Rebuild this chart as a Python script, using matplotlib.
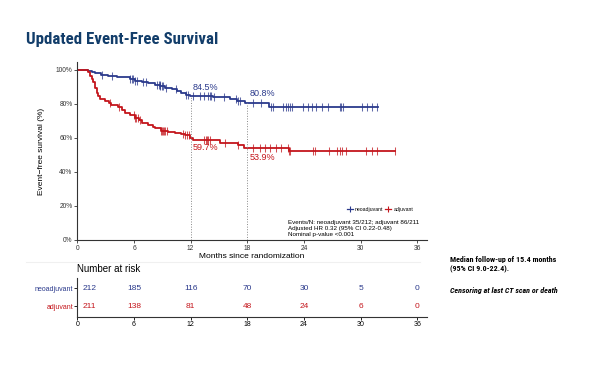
import matplotlib
matplotlib.use("Agg")
import matplotlib.pyplot as plt
from matplotlib.lines import Line2D
import numpy as np

plt.rcParams['font.family'] = ['Liberation Sans', 'DejaVu Sans']
COND = ['Roboto Condensed', 'Liberation Sans']

BLUE = '#2b3a8c'
RED = '#c4161c'
TITLE = '#123d6a'

# neoadjuvant arm (months, EFS %)
neo_t = [0, 1.1, 1.5, 1.9, 2.5, 3.2, 4.2, 5.0, 5.6, 6.1, 6.8, 7.5, 8.2, 8.8, 9.3,
         10.0, 10.6, 11.0, 11.5, 11.9, 14.4, 16.2, 16.9, 17.8, 20.3]
neo_s = [100, 99.4, 98.8, 98.0, 97.2, 96.6, 96.0, 95.6, 94.7, 93.7, 93.0, 92.2, 91.2, 90.4, 89.4,
         88.6, 87.8, 86.6, 85.4, 84.5, 83.9, 82.7, 81.6, 80.8, 78.4]
neo_end = 31.8
neo_cens = [2.6, 3.7, 5.6, 5.8, 5.9, 6.1, 6.3, 6.9, 7.3, 8.4, 8.6, 8.7, 8.8, 9.0, 9.1, 9.4,
            10.5, 11.5, 11.7, 12.3, 13.0, 13.4, 13.8, 14.0, 14.2, 14.5, 15.5, 16.8, 17.0,
            17.2, 18.6, 19.5, 20.5, 20.7, 21.8, 22.1, 22.3, 22.5, 22.7, 23.9, 24.4, 24.9,
            25.3, 25.9, 26.5, 27.8, 27.9, 28.1, 30.2, 30.7, 31.2, 31.7]

# adjuvant arm
adj_t = [0, 1.15, 1.3, 1.5, 1.7, 1.9, 2.05, 2.2, 2.4, 2.9, 3.3, 3.6, 4.3, 4.7, 5.0, 5.6,
         6.1, 6.5, 6.8, 7.5, 8.0, 8.2, 8.9, 9.6, 10.3, 11.0, 11.4, 11.95, 12.3, 15.1,
         17.0, 17.7, 22.4]
adj_s = [100, 98.6, 96.7, 94.8, 92.9, 89.6, 86.3, 84.4, 82.7, 81.8, 80.6, 79.4, 78.0, 76.2,
         74.5, 73.4, 71.6, 70.3, 69.0, 67.6, 66.7, 65.7, 64.3, 63.6, 63.1, 62.4, 61.8, 59.7,
         58.8, 57.2, 55.9, 53.9, 52.5]
adj_end = 33.6
adj_cens = [3.5, 4.4, 6.0, 6.1, 6.2, 6.4, 6.6, 8.9, 9.0, 9.1, 9.2, 9.3, 9.5, 11.2, 11.4,
            11.6, 11.8, 13.4, 13.6, 13.7, 13.8, 14.0, 15.6, 17.0, 18.6, 19.3, 19.9, 20.4,
            21.0, 21.6, 22.3, 22.4, 22.5, 25.0, 25.2, 26.7, 27.5, 27.8, 28.0, 28.5, 30.6,
            31.2, 31.7, 33.6]

# landmark estimates
land_t = [12, 18]
neo_land = [84.5, 80.8]
adj_land = [59.7, 53.9]

risk_t = [0, 6, 12, 18, 24, 30, 36]
neo_risk = [212, 185, 116, 70, 30, 5, 0]
adj_risk = [211, 138, 81, 48, 24, 6, 0]

fig = plt.figure(figsize=(6, 3.65), dpi=100)

fig.text(0.043, 0.879, 'Updated Event-Free Survival', fontsize=12.2, fontweight='bold',
         color=TITLE, family=COND)

ax = fig.add_axes([0.129, 0.3425, 0.582, 0.4877])


def curve(t, s, end, cens, color):
    idx = np.searchsorted(t, cens, side='right') - 1
    cy = np.array(s)[idx]
    ax.step(list(t) + [end], list(s) + [s[-1]], where='post', color=color, lw=1.3)
    ax.plot(cens, cy, ls='none', marker='|', ms=5.5, mew=0.75, color=color, alpha=0.75)


curve(neo_t, neo_s, neo_end, neo_cens, BLUE)
curve(adj_t, adj_s, adj_end, adj_cens, RED)

for x, yb, yr in zip(land_t, neo_land, adj_land):
    ax.vlines(x, 0, yb, color='#888888', ls=':', lw=0.7)
    ax.text(x + 0.2, yb + 2.5, f'{yb}%', color=BLUE, fontsize=6.5, ha='left', va='bottom')
    ax.text(x + 0.2, yr - 2.5, f'{yr}%', color=RED, fontsize=6.5, ha='left', va='top')

ax.set_xlim(0, 37)
ax.set_ylim(0, 104.7)
ax.set_xticks(risk_t)
ax.set_yticks([0, 20, 40, 60, 80, 100])
ax.set_yticklabels([f'{v}%' for v in [0, 20, 40, 60, 80, 100]])
ax.tick_params(labelsize=4.8, length=2, width=0.6, pad=1.5, colors='#333333')
for sp in ['top', 'right']:
    ax.spines[sp].set_visible(False)
for sp in ['left', 'bottom']:
    ax.spines[sp].set_linewidth(0.8)
    ax.spines[sp].set_color('#333333')
ax.set_xlabel('Months since randomization', fontsize=6, labelpad=1)
ax.set_ylabel('Event\u2212free survival (%)', fontsize=6, labelpad=8)

handles = [Line2D([], [], color=BLUE, marker='|', ms=5, mew=0.8, lw=0.9),
           Line2D([], [], color=RED, marker='|', ms=5, mew=0.8, lw=0.9)]
ax.legend(handles, ['neoadjuvant', 'adjuvant'], loc='lower right', ncol=2, frameon=False,
          fontsize=3.7, handlelength=1.2, handletextpad=0.4, columnspacing=0.4,
          bbox_to_anchor=(0.975, 0.13))
ax.text(0.603, 0.115, 'Events/N: neoadjuvant 35/212; adjuvant 86/211\n'
        'Adjusted HR 0.32 (95% CI 0.22-0.48)\nNominal p-value <0.001',
        transform=ax.transAxes, fontsize=4.5, va='top', ha='left', linespacing=1.3)

# number at risk table
rt = fig.add_axes([0.129, 0.1315, 0.582, 0.107])
for i, (a, b) in enumerate(zip(neo_risk, adj_risk)):
    x = risk_t[i]
    dx = 0.6 if i == 0 else 0
    ha = 'left' if i == 0 else 'center'
    rt.text(x + dx, 2, str(a), color=BLUE, fontsize=6, ha=ha, va='center')
    rt.text(x + dx, 1, str(b), color=RED, fontsize=6, ha=ha, va='center')
rt.set_xlim(0, 37)
rt.set_ylim(0.39, 2.56)
rt.set_xticks(risk_t)
rt.set_yticks([2, 1])
rt.set_yticklabels(['neoadjuvant', 'adjuvant'])
for lab, c in zip(rt.get_yticklabels(), [BLUE, RED]):
    lab.set_color(c)
rt.tick_params(labelsize=5, length=2, width=0.6, pad=1)
for sp in ['top', 'right']:
    rt.spines[sp].set_visible(False)
for sp in ['left', 'bottom']:
    rt.spines[sp].set_linewidth(0.8)
    rt.spines[sp].set_color('#333333')
fig.text(0.129, 0.263, 'Number at risk', fontsize=7, va='center', ha='left')

# faint panel border
fig.add_artist(Line2D([0.043, 0.70], [0.282, 0.282], color='#f0f0f0', lw=0.8))

fig.text(0.75, 0.275, 'Median follow-up of 15.4 months\n(95% CI 9.0-22.4).', fontsize=5.8,
         fontweight='bold', va='center', ha='left', linespacing=1.3, family=COND)
fig.text(0.75, 0.205, 'Censoring at last CT scan or death', fontsize=5.8,
         fontweight='bold', style='italic', va='center', ha='left', family=COND)

fig.savefig('out.png', dpi=100)
